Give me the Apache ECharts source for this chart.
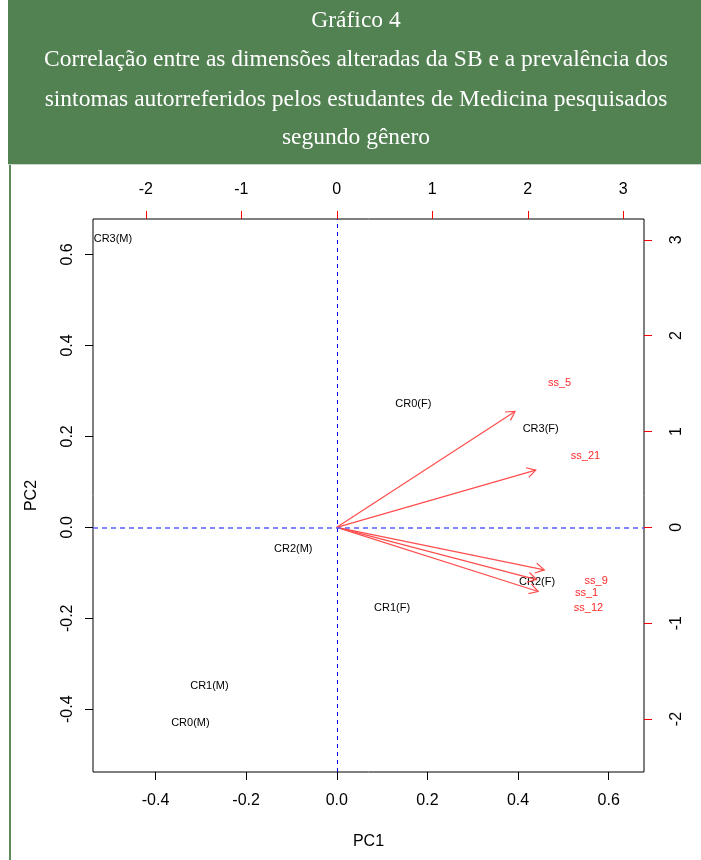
<!DOCTYPE html>
<html>
<head>
<meta charset="utf-8">
<script src="https://cdn.jsdelivr.net/npm/echarts@6/dist/echarts.min.js"></script>
<style>
  html, body { margin: 0; padding: 0; background: #fff; }
  #main { width: 701px; height: 860px; }
</style>
</head>
<body>
<div id="main"></div>
<script>
// títulos do gráfico
const titleLines = [
  'Gráfico 4',
  'Correlação entre as dimensões alteradas da SB e a prevalência dos',
  'sintomas autorreferidos pelos estudantes de Medicina pesquisados',
  'segundo gênero'
]

// scores (eixos PC1 / PC2)
const scoreNames = ['CR3(M)', 'CR0(F)', 'CR3(F)', 'CR2(M)', 'CR2(F)', 'CR1(F)', 'CR1(M)', 'CR0(M)']
const scoreX = [-0.494, 0.169, 0.450, -0.096, 0.442, 0.122, -0.281, -0.323]
const scoreY = [0.633, 0.272, 0.217, -0.047, -0.121, -0.177, -0.349, -0.430]

// loadings (eixos de cima / direita)
const loadNames = ['ss_5', 'ss_21', 'ss_9', 'ss_1', 'ss_12']
const loadX = [2.333, 2.604, 2.716, 2.615, 2.636]
const loadY = [1.511, 0.746, -0.555, -0.681, -0.837]

// ticks
const pcTicks = [-0.4, -0.2, 0, 0.2, 0.4, 0.6]
const loadTicks = [-2, -1, 0, 1, 2, 3]

const pcMin = -0.538, pcMax = 0.678
const ratio = 4.745
const arrowScale = 0.8

const chart = echarts.init(document.getElementById('main'))

const sans = '"Liberation Sans", Arial, sans-serif'
const serif = '"Liberation Serif", "DejaVu Serif", serif'

const headerGraphics = [
  { type: 'rect', shape: { x: 8, y: 0, width: 693, height: 164 }, style: { fill: '#528152' } },
  { type: 'rect', shape: { x: 8, y: 164, width: 693, height: 1 }, style: { fill: '#c9d6c9' } },
  { type: 'rect', shape: { x: 9, y: 165, width: 2, height: 695 }, style: { fill: '#5b8b5b' } }
]
const lineCenters = [21, 60, 100, 138]
titleLines.forEach((t, i) => {
  headerGraphics.push({
    type: 'text',
    x: 356,
    y: lineCenters[i],
    style: {
      text: t,
      fill: '#fff',
      font: '23.5px ' + serif,
      textAlign: 'center',
      textVerticalAlign: 'middle'
    }
  })
})

const labelAxisStyle = { color: '#000', fontFamily: sans, fontSize: 16 }
const noLine = { show: false, onZero: false }

const option = {
  animation: false,
  graphic: headerGraphics,
  grid: {
    left: 93, top: 219, width: 551, height: 553,
    show: true, borderColor: '#000', borderWidth: 1, backgroundColor: 'transparent'
  },
  xAxis: [
    {
      type: 'value', position: 'bottom', min: pcMin, max: pcMax,
      axisLine: noLine, splitLine: { show: false },
      axisTick: { customValues: pcTicks, length: 8, lineStyle: { color: '#000' } },
      axisLabel: Object.assign({ customValues: pcTicks, margin: 21, formatter: v => v.toFixed(1) }, labelAxisStyle),
      name: 'PC1', nameLocation: 'middle', nameGap: 62,
      nameTextStyle: { color: '#000', fontFamily: sans, fontSize: 16 }
    },
    {
      type: 'value', position: 'top', min: pcMin * ratio, max: pcMax * ratio,
      axisLine: noLine, splitLine: { show: false },
      axisTick: { customValues: loadTicks, length: 8, lineStyle: { color: '#ff0000' } },
      axisLabel: Object.assign({ customValues: loadTicks, margin: 21, formatter: v => String(v) }, labelAxisStyle)
    }
  ],
  yAxis: [
    {
      type: 'value', position: 'left', min: pcMin, max: pcMax,
      axisLine: noLine, splitLine: { show: false },
      axisTick: { customValues: pcTicks, length: 8, lineStyle: { color: '#000' } },
      axisLabel: Object.assign({ customValues: pcTicks, margin: 17, rotate: 90, formatter: v => v.toFixed(1) }, labelAxisStyle),
      name: 'PC2', nameLocation: 'middle', nameGap: 53, nameRotate: 90,
      nameTextStyle: { color: '#000', fontFamily: sans, fontSize: 16 }
    },
    {
      type: 'value', position: 'right', min: pcMin * ratio, max: pcMax * ratio,
      axisLine: noLine, splitLine: { show: false },
      axisTick: { customValues: loadTicks, length: 8, lineStyle: { color: '#ff0000' } },
      axisLabel: Object.assign({ customValues: loadTicks, margin: 25, rotate: 90, formatter: v => String(v) }, labelAxisStyle)
    }
  ],
  series: [
    {
      // linhas tracejadas em zero + rótulos dos scores
      type: 'custom',
      xAxisIndex: 0, yAxisIndex: 0,
      data: scoreX.map((x, i) => [x, scoreY[i]]),
      renderItem: (params, api) => {
        const p = api.coord([api.value(0), api.value(1)])
        return {
          type: 'text',
          x: p[0], y: p[1],
          style: {
            text: scoreNames[params.dataIndex],
            fill: '#000',
            font: '11px ' + sans,
            textAlign: 'center',
            textVerticalAlign: 'middle'
          }
        }
      },
      markLine: {
        silent: true, symbol: 'none', label: { show: false },
        data: [
          { xAxis: 0, lineStyle: { color: '#0000ff', width: 1, type: [4, 4] } },
          { yAxis: 0, lineStyle: { color: '#5c5cff', width: 1.5, type: [5, 4] } }
        ]
      }
    },
    {
      // setas dos sintomas
      type: 'custom',
      xAxisIndex: 1, yAxisIndex: 1,
      data: loadX.map((x, i) => [x, loadY[i]]),
      renderItem: (params, api) => {
        const o = api.coord([0, 0])
        const t = api.coord([api.value(0) * arrowScale, api.value(1) * arrowScale])
        const ang = Math.atan2(t[1] - o[1], t[0] - o[0])
        const len = 10, spread = Math.PI / 6
        const h1 = [t[0] - len * Math.cos(ang - spread), t[1] - len * Math.sin(ang - spread)]
        const h2 = [t[0] - len * Math.cos(ang + spread), t[1] - len * Math.sin(ang + spread)]
        const st = { stroke: '#ff4d4d', lineWidth: 1.2, fill: null }
        return {
          type: 'group',
          children: [
            { type: 'polyline', shape: { points: [o, t] }, style: st },
            { type: 'polyline', shape: { points: [h1, t, h2] }, style: st }
          ]
        }
      }
    },
    {
      // rótulos dos sintomas
      type: 'custom',
      xAxisIndex: 1, yAxisIndex: 1,
      data: loadX.map((x, i) => [x, loadY[i]]),
      renderItem: (params, api) => {
        const p = api.coord([api.value(0), api.value(1)])
        return {
          type: 'text',
          x: p[0], y: p[1],
          style: {
            text: loadNames[params.dataIndex],
            fill: '#ff2a2a',
            font: '11px ' + sans,
            textAlign: 'center',
            textVerticalAlign: 'middle'
          }
        }
      }
    }
  ]
}

chart.setOption(option)
</script>
</body>
</html>
